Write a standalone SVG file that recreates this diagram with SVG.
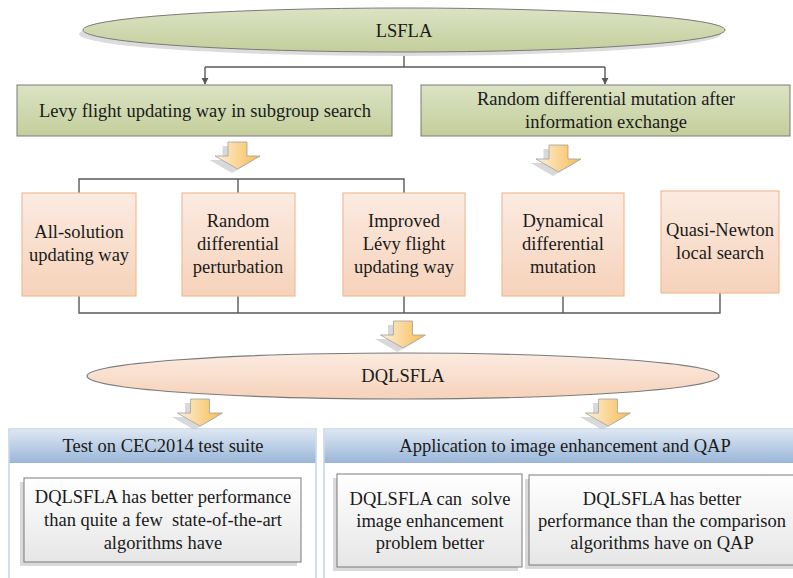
<svg xmlns="http://www.w3.org/2000/svg" width="793" height="578" viewBox="0 0 793 578">
<defs>
<style>
text{font-size:18.5px;fill:#1a1a1a;text-anchor:middle;white-space:pre}
.green{fill:url(#gGreen);stroke:#7a7a7a;stroke-width:1}
.peach{fill:url(#gPeach);stroke:#f2bc96;stroke-width:1.2}
.conn{fill:none;stroke:#595959;stroke-width:1.4}
.shadow{fill:#d9d9d9}
.barrow{fill:url(#gArrow);stroke:#a0a0a0;stroke-width:0.8}
.cont{fill:#fff;stroke:#b7c8dc;stroke-width:1.2}
.head{fill:url(#gHead);stroke:none}
.inner{fill:url(#gInner);stroke:#7a7a7a;stroke-width:1}
</style>
<linearGradient id="gGreen" x1="0" y1="0" x2="0" y2="1"><stop offset="0" stop-color="#dbe3c4"/><stop offset="1" stop-color="#c3ce9b"/></linearGradient>
<linearGradient id="gPeach" x1="0" y1="0" x2="0" y2="1"><stop offset="0" stop-color="#fbebe1"/><stop offset="1" stop-color="#f6d2ba"/></linearGradient>
<linearGradient id="gArrow" x1="0" y1="0" x2="1" y2="0"><stop offset="0" stop-color="#fdf0dc"/><stop offset="1" stop-color="#f7bc50"/></linearGradient>
<linearGradient id="gHead" x1="0" y1="0" x2="0" y2="1"><stop offset="0" stop-color="#dde7f3"/><stop offset="1" stop-color="#9ab6d8"/></linearGradient>
<linearGradient id="gInner" x1="0" y1="0" x2="0" y2="1"><stop offset="0" stop-color="#ffffff"/><stop offset="1" stop-color="#e6e6e6"/></linearGradient>
<marker id="ah" viewBox="0 0 10 10" refX="9" refY="5" markerWidth="7" markerHeight="7" orient="auto" markerUnits="userSpaceOnUse"><path d="M0,0 L10,5 L0,10 Z" fill="#595959"/></marker>
<path id="ba" d="M -9.5,0 H 9.5 V 14 H 22.5 L 0,27 L -22.5,14 H -9.5 Z"/>
</defs>
<rect width="793" height="578" fill="#fff"/>

<g id="connectors">
<path class="conn" d="M404,52 V67 M205,67 H605"/>
<path class="conn" d="M205,67 V84" marker-end="url(#ah)"/>
<path class="conn" d="M605,67 V84" marker-end="url(#ah)"/>
<path class="conn" d="M79,193 V179 H404 V193 M238,179 V193"/>
<path class="conn" d="M79,296 V313 H720 V293 M238,296 V313 M404,296 V313 M563,296 V313"/>
</g>

<g id="blockarrows">
<use href="#ba" class="shadow" transform="translate(232,146)"/>
<use href="#ba" class="barrow" transform="translate(237.5,142)"/>
<use href="#ba" class="shadow" transform="translate(553,149)"/>
<use href="#ba" class="barrow" transform="translate(558.5,145)"/>
<use href="#ba" class="shadow" transform="translate(397.5,325)"/>
<use href="#ba" class="barrow" transform="translate(403,321)"/>
<use href="#ba" class="shadow" transform="translate(194.5,403)"/>
<use href="#ba" class="barrow" transform="translate(200,399)"/>
<use href="#ba" class="shadow" transform="translate(602.5,403)"/>
<use href="#ba" class="barrow" transform="translate(608,399)"/>
</g>

<g font-family="'Liberation Serif', 'DejaVu Serif', serif">
<g id="lsfla">
<ellipse cx="400" cy="34" rx="321" ry="22" fill="#dcdcdc"/>
<ellipse cx="404" cy="30" rx="321" ry="22" class="green"/>
<text x="404" y="37">LSFLA</text>
</g>

<g id="levy">
<rect x="17" y="85" width="375" height="51" class="green"/>
<text x="205" y="117">Levy flight updating way in subgroup search</text>
</g>

<g id="rdm">
<rect x="421" y="85" width="369" height="51" class="green"/>
<text x="606" y="105">Random differential mutation after</text>
<text x="606" y="128">information exchange</text>
</g>

<g id="allsol">
<rect x="22" y="193" width="114" height="103" class="peach"/>
<text x="79" y="238">All-solution</text>
<text x="79" y="261">updating way</text>
</g>
<g id="rdp">
<rect x="182" y="193" width="113" height="103" class="peach"/>
<text x="238" y="227">Random</text>
<text x="238" y="250">differential</text>
<text x="238" y="273">perturbation</text>
</g>
<g id="ilf">
<rect x="343" y="193" width="122" height="103" class="peach"/>
<text x="404" y="227">Improved</text>
<text x="404" y="250">Lévy flight</text>
<text x="404" y="273">updating way</text>
</g>
<g id="ddm">
<rect x="502" y="193" width="122" height="103" class="peach"/>
<text x="563" y="227">Dynamical</text>
<text x="563" y="250">differential</text>
<text x="563" y="273">mutation</text>
</g>
<g id="qn">
<rect x="661" y="191" width="118" height="102" class="peach"/>
<text x="720" y="236">Quasi-Newton</text>
<text x="720" y="259">local search</text>
</g>

<g id="dqlsfla">
<ellipse cx="403" cy="376" rx="316" ry="23" class="peach" style="stroke:#7a7a7a"/>
<text x="403" y="382">DQLSFLA</text>
</g>

<g id="test">
<rect x="9" y="429" width="307" height="160" class="cont"/>
<rect x="9.6" y="429.6" width="305.8" height="33.4" class="head"/>
<text x="163" y="452">Test on CEC2014 test suite</text>
<g id="testres">
<rect x="20" y="482" width="277" height="84" class="shadow"/>
<rect x="24" y="478" width="277" height="84" class="inner"/>
<text x="163" y="503">DQLSFLA has better performance</text>
<text x="163" y="526" xml:space="preserve">than quite a few  state-of-the-art</text>
<text x="163" y="549">algorithms have</text>
</g>
</g>

<g id="app">
<rect x="324" y="429" width="480" height="160" class="cont"/>
<rect x="324.6" y="429.6" width="479" height="33.4" class="head"/>
<text x="565" y="452">Application to image enhancement and QAP</text>
<g id="imgres">
<rect x="333" y="478" width="185" height="93" class="shadow"/>
<rect x="337" y="474" width="185" height="93" class="inner"/>
<text x="430" y="505" xml:space="preserve">DQLSFLA can  solve</text>
<text x="430" y="527">image enhancement</text>
<text x="430" y="549">problem better</text>
</g>
<g id="qapres">
<rect x="525" y="479" width="275" height="90" class="shadow"/>
<rect x="529" y="475" width="275" height="90" class="inner"/>
<text x="662" y="505">DQLSFLA has better</text>
<text x="662" y="527">performance than the comparison</text>
<text x="662" y="549">algorithms have on QAP</text>
</g>
</g>
</g>
</svg>
